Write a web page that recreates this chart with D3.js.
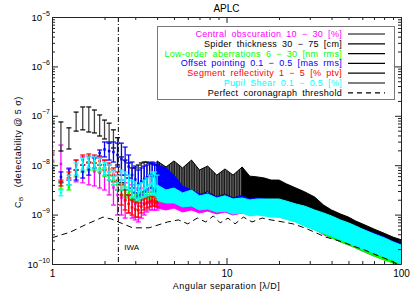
<!DOCTYPE html>
<html>
<head>
<meta charset="utf-8">
<script src="https://cdn.jsdelivr.net/npm/d3@7"></script>
<style>
  body { margin: 0; background: #fff; }
  svg text { font-family: "Liberation Sans", Arial, sans-serif; fill: #000; }
</style>
</head>
<body>
<svg id="chart" width="417" height="298"></svg>
<script>
// separations [lambda/D] where the error bars are still distinct
const sepSparse = [1, 1.125, 1.25, 1.375, 1.5, 1.625, 1.75, 1.875, 2, 2.125, 2.25, 2.375, 2.5,
  2.625, 2.75, 2.875, 3, 3.125, 3.25, 3.375, 3.5, 3.625, 3.75, 3.875, 4];
// separations where the bars merge into a band (edges)
const sepDense = [4, 4.5, 5, 5.6, 6.3, 7, 7.8, 8.8, 9.8, 10.9, 12.3, 13.6, 15, 16.5, 18, 20, 22,
  25, 28, 32, 36, 40, 45, 50, 55, 60, 70, 80, 90, 100];

// central obscuration (magenta)
const centralHiS = [4.5e-8, 2.56e-8, 8.8e-9, 1.27e-8, 1.47e-8, 1.53e-8, 1.47e-8, 1.4e-8, 1.27e-8, 1.01e-8, 8.0e-9, 6.3e-9, 5.0e-9,
  4.4e-9, 5.5e-9, 4.0e-9, 3.45e-9, 3.15e-9, 3.45e-9, 2.9e-9, 2.5e-9, 2.4e-9, 2.27e-9, 2.27e-9, 2.17e-9];
const centralLoS = [1.27e-8, 4.4e-9, 4.0e-9, 4.6e-9, 4.4e-9, 4.0e-9, 3.8e-9, 3.45e-9, 3.15e-9, 2.5e-9, 1.56e-9, 9.8e-10, 9.8e-10,
  8.5e-10, 1.08e-9, 8.5e-10, 7.8e-10, 7.1e-10, 8.5e-10, 9.8e-10, 1.13e-9, 1.24e-9, 1.24e-9, 1.24e-9, 1.24e-9];
const centralHiD = [2.17e-9, 1.98e-9, 2.17e-9, 1.8e-9, 1.98e-9, 1.64e-9, 1.8e-9, 1.49e-9, 1.64e-9, 1.43e-9, 1.56e-9, 1.43e-9, 1.49e-9,
  1.43e-9, 1.43e-9, 1.36e-9, 1.24e-9, 1.08e-9, 9.4e-10, 7.8e-10, 6.8e-10, 5.9e-10, 4.9e-10, 4.2e-10, 3.7e-10, 3.25e-10,
  2.66e-10, 2.21e-10, 1.83e-10, 1.59e-10];
const centralLoD = [1.36e-9, 1.24e-9, 1.36e-9, 1.13e-9, 1.24e-9, 1.08e-9, 1.18e-9, 1.03e-9, 1.13e-9, 9.8e-10, 1.08e-9, 9.8e-10, 1.03e-9,
  9.8e-10, 9.8e-10, 9.4e-10, 8.5e-10, 7.5e-10, 6.2e-10, 5.2e-10, 3.9e-10, 3.4e-10, 2.8e-10, 2.43e-10, 2.11e-10, 1.83e-10,
  1.45e-10, 1.26e-10, 1.05e-10, 9.1e-11];

// spider thickness (black)
const spiderHiS = [2.19e-7, 7.5e-8, 5.7e-8, 1.19e-7, 1.51e-7, 1.51e-7, 1.31e-7, 1.04e-7, 8.2e-8, 7.1e-8, 5.2e-8, 3.6e-8, 1.47e-8,
  1.27e-8, 1.11e-8, 8.8e-9, 8.8e-9, 1.01e-8, 1.11e-8, 1.16e-8, 1.16e-8, 1.11e-8, 1.06e-8, 1.01e-8, 1.01e-8];
const spiderLoS = [7.1e-8, 1.94e-8, 2.13e-8, 4.9e-8, 5.2e-8, 4.7e-8, 4.5e-8, 3.9e-8, 3.4e-8, 2.8e-8, 2.23e-8, 1.01e-8, 4.4e-9,
  3.15e-9, 2.5e-9, 1.98e-9, 2.17e-9, 2.5e-9, 2.75e-9, 2.9e-9, 2.9e-9, 2.9e-9, 2.9e-9, 2.9e-9, 3.0e-9];
const spiderHiD = [1.22e-8, 9.2e-9, 1.22e-8, 8.8e-9, 1.27e-8, 8.0e-9, 9.6e-9, 6.3e-9, 8.4e-9, 6.3e-9, 9.2e-9, 6.0e-9, 5.8e-9,
  5.5e-9, 5.0e-9, 5.0e-9, 4.2e-9, 3.45e-9, 2.9e-9, 2.27e-9, 1.56e-9, 1.24e-9, 1.03e-9, 8.9e-10, 7.4e-10, 6.5e-10,
  5.1e-10, 4.2e-10, 3.5e-10, 3.1e-10];
const spiderLoD = [3.0e-9, 2.75e-9, 3.15e-9, 2.6e-9, 3.15e-9, 2.5e-9, 2.9e-9, 2.27e-9, 2.6e-9, 2.17e-9, 2.4e-9, 1.88e-9, 1.8e-9,
  1.72e-9, 1.64e-9, 1.49e-9, 1.36e-9, 1.18e-9, 1.03e-9, 8.5e-10, 7.1e-10, 5.9e-10, 4.9e-10, 4.05e-10, 3.5e-10, 3.1e-10,
  2.54e-10, 2.11e-10, 1.75e-10, 1.52e-10];

// low-order aberrations (green)
const lowOrderHiS = [1.01e-8, 4.4e-9, 4.0e-9, 8.0e-9, 1.01e-8, 1.11e-8, 1.11e-8, 1.01e-8, 8.8e-9, 7.3e-9, 6.0e-9, 5.0e-9, 4.0e-9,
  3.6e-9, 3.15e-9, 2.9e-9, 2.75e-9, 2.6e-9, 2.75e-9, 2.9e-9, 2.9e-9, 2.9e-9, 2.9e-9, 2.75e-9, 2.6e-9];
const lowOrderLoS = [7.6e-9, 3.3e-9, 3.15e-9, 5.8e-9, 7.3e-9, 8.0e-9, 8.0e-9, 7.3e-9, 6.0e-9, 5.0e-9, 4.0e-9, 3.15e-9, 2.5e-9,
  2.27e-9, 2.17e-9, 1.98e-9, 1.88e-9, 1.8e-9, 1.98e-9, 2.07e-9, 2.07e-9, 2.07e-9, 2.07e-9, 1.98e-9, 1.88e-9];
const lowOrderHiD = [2.6e-9, 2.4e-9, 2.5e-9, 2.17e-9, 2.27e-9, 1.88e-9, 1.98e-9, 1.64e-9, 1.72e-9, 1.56e-9, 1.64e-9, 1.49e-9, 1.49e-9,
  1.43e-9, 1.43e-9, 1.36e-9, 1.24e-9, 1.08e-9, 9.4e-10, 7.8e-10, 6.5e-10, 5.6e-10, 4.7e-10, 4.05e-10, 3.5e-10, 3.1e-10,
  2.54e-10, 2.11e-10, 1.75e-10, 1.52e-10];
const lowOrderLoD = [1.88e-9, 1.72e-9, 1.8e-9, 1.49e-9, 1.56e-9, 1.3e-9, 1.36e-9, 1.13e-9, 1.18e-9, 1.08e-9, 1.13e-9, 1.03e-9, 1.03e-9,
  9.8e-10, 9.4e-10, 8.9e-10, 8.1e-10, 7.1e-10, 5.9e-10, 4.9e-10, 4.05e-10, 3.4e-10, 2.8e-10, 2.43e-10, 2.11e-10, 1.83e-10,
  1.45e-10, 1.2e-10, 1.05e-10, 9.1e-11];

// offset pointing (blue)
const pointingHiS = [1.61e-8, 7.3e-9, 8.4e-9, 8.0e-9, 1.01e-8, 1.16e-8, 1.4e-8, 2.03e-8, 2.95e-8, 2.95e-8, 2.95e-8, 2.8e-8, 2.8e-8,
  2.33e-8, 1.61e-8, 1.16e-8, 9.6e-9, 8.0e-9, 8.8e-9, 9.6e-9, 1.01e-8, 1.11e-8, 1.16e-8, 1.11e-8, 1.01e-8];
const pointingLoS = [8.8e-9, 4.6e-9, 5.0e-9, 5.0e-9, 5.5e-9, 6.3e-9, 8.8e-9, 1.53e-8, 1.47e-8, 1.27e-8, 1.16e-8, 9.2e-9, 6.3e-9,
  6.3e-9, 5.5e-9, 3.45e-9, 2.75e-9, 2.27e-9, 2.5e-9, 2.9e-9, 3.15e-9, 3.45e-9, 3.45e-9, 3.15e-9, 2.9e-9];
const pointingHiD = [1.01e-8, 8.8e-9, 6.3e-9, 3.8e-9, 3.15e-9, 2.6e-9, 2.75e-9, 2.27e-9, 2.5e-9, 2.17e-9, 2.4e-9, 2.07e-9, 2.17e-9,
  2.07e-9, 1.98e-9, 1.88e-9, 1.72e-9, 1.49e-9, 1.3e-9, 1.13e-9, 9.8e-10, 8.5e-10, 7.4e-10, 6.5e-10, 5.6e-10, 5.1e-10,
  4.2e-10, 3.5e-10, 2.9e-10, 2.54e-10];
const pointingLoD = [2.9e-9, 2.5e-9, 2.75e-9, 2.17e-9, 1.98e-9, 1.56e-9, 1.56e-9, 1.24e-9, 1.36e-9, 1.13e-9, 1.18e-9, 1.03e-9, 1.08e-9,
  1.03e-9, 9.8e-10, 9.4e-10, 8.5e-10, 7.4e-10, 6.2e-10, 5.1e-10, 4.4e-10, 3.9e-10, 3.25e-10, 2.8e-10, 2.43e-10, 2.11e-10,
  1.75e-10, 1.45e-10, 1.26e-10, 1.1e-10];

// segment reflectivity (red)
const segmentHiS = [1.77e-8, 5.0e-9, 7.3e-9, 1.27e-8, 1.61e-8, 1.69e-8, 1.61e-8, 1.47e-8, 1.27e-8, 1.11e-8, 8.8e-9, 7.3e-9, 4.0e-9,
  3.15e-9, 2.5e-9, 1.98e-9, 1.8e-9, 1.72e-9, 1.98e-9, 2.17e-9, 2.27e-9, 2.4e-9, 2.4e-9, 2.27e-9, 2.17e-9];
const segmentLoS = [1.16e-8, 3.8e-9, 5.5e-9, 8.0e-9, 1.01e-8, 1.11e-8, 1.11e-8, 1.01e-8, 8.0e-9, 6.3e-9, 4.6e-9, 3.15e-9, 1.56e-9,
  1.24e-9, 1.08e-9, 9.8e-10, 8.9e-10, 8.9e-10, 1.08e-9, 1.24e-9, 1.36e-9, 1.43e-9, 1.49e-9, 1.49e-9, 1.43e-9];
const segmentHiD = [2.75e-9, 2.4e-9, 2.5e-9, 2.07e-9, 2.17e-9, 1.8e-9, 1.88e-9, 1.64e-9, 1.72e-9, 1.49e-9, 1.56e-9, 1.43e-9, 1.49e-9,
  1.43e-9, 1.43e-9, 1.36e-9, 1.24e-9, 1.08e-9, 9.4e-10, 8.1e-10, 7.1e-10, 6.2e-10, 5.4e-10, 4.7e-10, 4.05e-10, 3.5e-10,
  2.9e-10, 2.43e-10, 2.11e-10, 1.83e-10];
const segmentLoD = [2.07e-9, 1.88e-9, 1.88e-9, 1.56e-9, 1.64e-9, 1.36e-9, 1.43e-9, 1.24e-9, 1.3e-9, 1.13e-9, 1.18e-9, 1.08e-9, 1.13e-9,
  1.08e-9, 1.03e-9, 9.8e-10, 8.9e-10, 7.8e-10, 6.8e-10, 5.6e-10, 4.7e-10, 4.05e-10, 3.4e-10, 2.9e-10, 2.54e-10, 2.21e-10,
  1.83e-10, 1.52e-10, 1.32e-10, 1.1e-10];

// pupil shear (cyan)
const shearHiS = [1.11e-8, 3.15e-9, 6.3e-9, 1.11e-8, 1.4e-8, 1.47e-8, 1.47e-8, 1.4e-8, 1.16e-8, 1.01e-8, 8.0e-9, 6.3e-9, 8.0e-9,
  7.3e-9, 6.3e-9, 5.0e-9, 4.6e-9, 4.0e-9, 4.4e-9, 5.0e-9, 5.5e-9, 6.3e-9, 7.3e-9, 7.3e-9, 6.3e-9];
const shearLoS = [8.0e-9, 2.4e-9, 4.0e-9, 6.3e-9, 8.0e-9, 8.8e-9, 8.8e-9, 8.0e-9, 6.3e-9, 5.0e-9, 4.0e-9, 3.15e-9, 3.15e-9,
  3.45e-9, 3.15e-9, 2.27e-9, 2.17e-9, 1.98e-9, 2.17e-9, 2.27e-9, 2.4e-9, 2.5e-9, 2.5e-9, 2.5e-9, 2.27e-9];
const shearHiD = [4.0e-9, 3.15e-9, 3.45e-9, 2.75e-9, 3.15e-9, 2.4e-9, 2.6e-9, 2.17e-9, 2.4e-9, 2.07e-9, 2.17e-9, 1.98e-9, 2.07e-9,
  2.07e-9, 2.07e-9, 2.07e-9, 1.88e-9, 1.64e-9, 1.49e-9, 1.24e-9, 1.08e-9, 9.4e-10, 7.8e-10, 6.8e-10, 5.9e-10, 5.1e-10,
  4.05e-10, 3.4e-10, 2.8e-10, 2.43e-10];
const shearLoD = [1.98e-9, 1.72e-9, 1.72e-9, 1.43e-9, 1.49e-9, 1.24e-9, 1.3e-9, 1.13e-9, 1.18e-9, 1.03e-9, 1.08e-9, 9.4e-10, 9.8e-10,
  9.4e-10, 8.9e-10, 8.9e-10, 8.1e-10, 7.1e-10, 5.9e-10, 4.9e-10, 4.2e-10, 3.7e-10, 3.1e-10, 2.66e-10, 2.31e-10, 2.01e-10,
  1.67e-10, 1.39e-10, 1.2e-10, 1.0e-10];

// perfect coronagraph threshold (dashed)
const thresholdSep = [1, 1.27, 1.55, 1.96, 2.2, 2.4, 2.9, 3.6, 4.6, 5.3, 6.0, 6.8, 7.6, 8.4, 9.2, 10.2, 11.2, 12.5,
  14, 16, 18, 21, 24, 28, 32, 37, 42, 48, 55, 62, 70, 80, 90, 100];
const thresholdVal = [3.4e-10, 4.4e-10, 6.2e-10, 8.9e-10, 8.1e-10, 7.1e-10, 5.4e-10, 5.4e-10, 7.1e-10, 7.8e-10, 6.5e-10, 8.5e-10,
  7.1e-10, 9.4e-10, 6.8e-10, 8.5e-10, 6.5e-10, 8.9e-10, 7.1e-10, 8.5e-10, 7.8e-10, 7.1e-10, 6.5e-10, 5.4e-10, 4.4e-10,
  3.5e-10, 3.1e-10, 2.66e-10, 2.21e-10, 1.92e-10, 1.59e-10, 1.32e-10, 1.1e-10, 9.1e-11];

const iwa = 2.4;
const legendLabels = ["Central obscuration 10 \u2212 30 [%]", "Spider thickness 30 \u2212 75 [cm]",
  "Low-order aberrations 6 \u2212 30 [nm rms]", "Offset pointing 0.1 \u2212 0.5 [mas rms]",
  "Segment reflectivity 1 \u2212 5 [% ptv]", "Pupil Shear 0.1 \u2212 0.5 [%]", "Perfect coronagraph threshold"];
const legendColors = ["#ff00ff", "#000000", "#00ff00", "#0000ff", "#ff0000", "#00ffff", "#000000"];
const xTickLabels = [1, 10, 100];
const yTickLabels = [1e-10, 1e-9, 1e-8, 1e-7, 1e-6, 1e-5];

const series = [
  { color: "#ff00ff", hiS: centralHiS, loS: centralLoS, hiD: centralHiD, loD: centralLoD },
  { color: "#000000", hiS: spiderHiS, loS: spiderLoS, hiD: spiderHiD, loD: spiderLoD },
  { color: "#00ff00", hiS: lowOrderHiS, loS: lowOrderLoS, hiD: lowOrderHiD, loD: lowOrderLoD },
  { color: "#0000ff", hiS: pointingHiS, loS: pointingLoS, hiD: pointingHiD, loD: pointingLoD },
  { color: "#ff0000", hiS: segmentHiS, loS: segmentLoS, hiD: segmentHiD, loD: segmentLoD },
  { color: "#00ffff", hiS: shearHiS, loS: shearLoS, hiD: shearHiD, loD: shearLoD }
];

const plotLeft = 52, plotRight = 401, plotTop = 17, plotBottom = 264;
const svg = d3.select("#chart");

let x = d3.scaleLog().domain([1, 100]).range([plotLeft, plotRight]);
let y = d3.scaleLog().domain([1e-10, 1e-5]).range([plotBottom, plotTop]);

let defs = svg.append("defs");
defs.append("clipPath").attr("id", "plotclip")
  .append("rect").attr("x", plotLeft).attr("y", plotTop)
  .attr("width", plotRight - plotLeft).attr("height", plotBottom - plotTop);
let pat = defs.append("pattern").attr("id", "stripes")
  .attr("width", 2.5).attr("height", 4).attr("patternUnits", "userSpaceOnUse");
pat.append("rect").attr("width", 2.5).attr("height", 4).attr("fill", "#161616");
pat.append("rect").attr("width", 1.2).attr("height", 4).attr("fill", "#6a6a6a");

let plot = svg.append("g").attr("clip-path", "url(#plotclip)");

let band = d3.area()
  .x((d) => x(d.sep))
  .y0((d) => y(d.lo))
  .y1((d) => y(d.hi));

series.forEach((s) => {
  let g = plot.append("g");
  let isBlack = s.color === "#000000";
  let dense = sepDense.map((d, i) => ({ sep: d, lo: s.loD[i], hi: s.hiD[i] }));
  if (isBlack) {
    // bars still a little apart below ~12 lambda/D, solid black further out
    g.append("path").datum(dense.slice(0, 11)).attr("d", band)
      .attr("fill", "url(#stripes)").attr("stroke", "#000").attr("stroke-width", 1);
    g.append("path").datum(dense.slice(10)).attr("d", band)
      .attr("fill", "#000").attr("stroke", "#000").attr("stroke-width", 1);
  } else {
    g.append("path").datum(dense).attr("d", band)
      .attr("fill", s.color).attr("stroke", s.color).attr("stroke-width", 1);
  }

  let sparse = sepSparse.map((d, i) => ({ sep: d, lo: s.loS[i], hi: s.hiS[i] }));
  g.selectAll("line.bar").data(sparse).enter().append("line")
    .attr("class", "bar")
    .attr("x1", (d) => x(d.sep)).attr("x2", (d) => x(d.sep))
    .attr("y1", (d) => y(d.lo)).attr("y2", (d) => y(d.hi))
    .attr("stroke", isBlack ? "#444" : s.color).attr("stroke-width", 1.3);
  ["lo", "hi"].forEach((k) => {
    g.selectAll("line.cap-" + k).data(sparse).enter().append("line")
      .attr("class", "cap-" + k)
      .attr("x1", (d) => x(d.sep) - 2.5).attr("x2", (d) => x(d.sep) + 2.5)
      .attr("y1", (d) => y(d[k])).attr("y2", (d) => y(d[k]))
      .attr("stroke", s.color).attr("stroke-width", 1.2);
  });
  if (!isBlack) {
    g.selectAll("rect.pt").data(sparse).enter().append("rect")
      .attr("class", "pt")
      .attr("x", (d) => x(d.sep) - 1.25)
      .attr("y", (d) => y(Math.sqrt(d.lo * d.hi)) - 1.25)
      .attr("width", 2.5).attr("height", 2.5)
      .attr("fill", s.color);
  }
});

// threshold
plot.append("path")
  .datum(thresholdSep.map((d, i) => ({ sep: d, v: thresholdVal[i] })))
  .attr("d", d3.line().x((d) => x(d.sep)).y((d) => y(d.v)))
  .attr("fill", "none").attr("stroke", "#000").attr("stroke-width", 1)
  .attr("stroke-dasharray", "6,4");

// inner working angle
svg.append("line")
  .attr("x1", x(iwa)).attr("x2", x(iwa)).attr("y1", plotTop).attr("y2", plotBottom)
  .attr("stroke", "#000").attr("stroke-width", 1).attr("stroke-dasharray", "5,2,1,2");
svg.append("text").attr("x", x(iwa) + 6).attr("y", 250).attr("font-size", 8).text("IWA");

// axes, ticks pointing inwards, longer at the decades
let isMajor = (d) => Math.abs(Math.log10(d) - Math.round(Math.log10(d))) < 1e-6;
function styleAxis(g, sign) {
  g.select(".domain").attr("stroke", "#222");
  g.selectAll(".tick line").attr("stroke", "#222");
  g.selectAll(".tick line").each(function (d) {
    let el = d3.select(this);
    let attr = el.attr("x2") !== null ? "x2" : "y2";
    el.attr(attr, sign * (isMajor(d) ? 6 : 3));
  });
}

let xb = svg.append("g").attr("transform", `translate(0,${plotBottom})`)
  .call(d3.axisBottom(x).tickValues(x.ticks()).tickSize(-6).tickSizeOuter(0).tickPadding(6)
    .tickFormat((d) => (xTickLabels.includes(d) ? d : "")));
styleAxis(xb, -1);
xb.selectAll("text").attr("font-size", 10).attr("font-family", null);

let xt = svg.append("g").attr("transform", `translate(0,${plotTop})`)
  .call(d3.axisTop(x).tickValues(x.ticks()).tickSize(-6).tickSizeOuter(0).tickFormat(""));
styleAxis(xt, 1);

let yl = svg.append("g").attr("transform", `translate(${plotLeft},0)`)
  .call(d3.axisLeft(y).tickValues(y.ticks()).tickSize(-6).tickSizeOuter(0).tickFormat(""));
styleAxis(yl, 1);

let yr = svg.append("g").attr("transform", `translate(${plotRight},0)`)
  .call(d3.axisRight(y).tickValues(y.ticks()).tickSize(-6).tickSizeOuter(0).tickFormat(""));
styleAxis(yr, -1);

// y tick labels as 10^n
yTickLabels.forEach((v) => {
  let t = svg.append("text")
    .attr("x", plotLeft - 2).attr("y", y(v) + 3.5)
    .attr("text-anchor", "end").attr("font-size", 9.5);
  t.append("tspan").text("10");
  t.append("tspan").attr("dy", -5).attr("font-size", 7).text("\u2212" + Math.round(-Math.log10(v)));
});

// titles
svg.append("text").attr("x", (plotLeft + plotRight) / 2).attr("y", 12)
  .attr("text-anchor", "middle").attr("font-size", 10).text("APLC");
svg.append("text").attr("x", (plotLeft + plotRight) / 2).attr("y", 289)
  .attr("text-anchor", "middle").attr("font-size", 9).attr("letter-spacing", 0.45)
  .text("Angular separation [\u03bb/D]");
let yt = svg.append("text").attr("transform", "translate(21,152) rotate(-90)")
  .attr("text-anchor", "middle").attr("font-size", 9).attr("letter-spacing", 0.5);
yt.append("tspan").text("C");
yt.append("tspan").attr("dy", 2).attr("font-size", 6).text("B");
yt.append("tspan").attr("dy", -2).text("\u00a0\u00a0\u00a0(detectability @ 5 \u03c3)");

// legend
svg.append("rect").attr("x", 157.5).attr("y", 26.5).attr("width", 237).attr("height", 73)
  .attr("fill", "none").attr("stroke", "#777").attr("stroke-width", 1);
legendLabels.forEach((lab, i) => {
  let yy = 37 + i * 9.8;
  svg.append("text").attr("x", 342).attr("y", yy).attr("text-anchor", "end")
    .attr("font-size", 9).attr("letter-spacing", 0.3).attr("word-spacing", 2.2)
    .style("fill", legendColors[i]).text(lab);
  svg.append("line").attr("x1", 348).attr("x2", 385).attr("y1", yy - 3).attr("y2", yy - 3)
    .attr("stroke", "#000").attr("stroke-width", 1.2)
    .attr("stroke-dasharray", i === 6 ? "5,4" : null);
});
</script>
</body>
</html>
